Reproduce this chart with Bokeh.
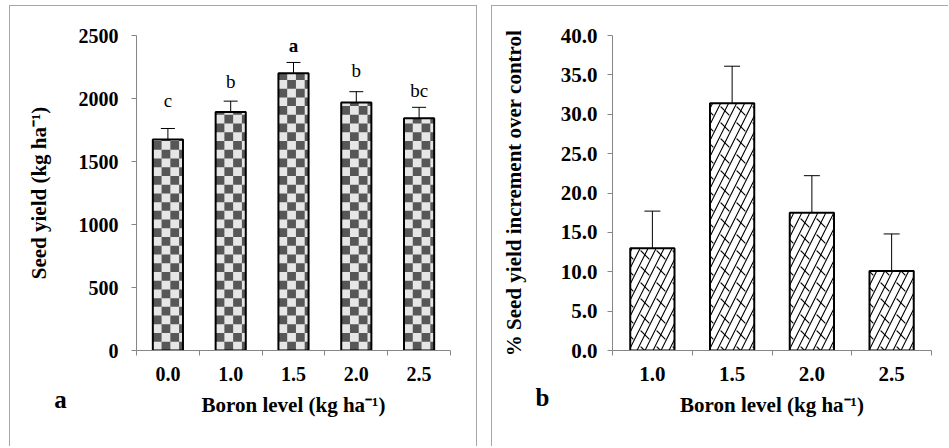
import math
from bokeh.plotting import figure
from bokeh.models import ColumnDataSource, Whisker, TeeHead, FixedTicker, Label
from bokeh.layouts import row
from bokeh.core.properties import value
from bokeh.embed import file_html
from bokeh.resources import INLINE

# ---------------- data ----------------
levels_a = ["0.0", "1.0", "1.5", "2.0", "2.5"]
yield_mean = [1675, 1892, 2200, 1968, 1844]
yield_se = [87, 87, 86, 86, 86]
yield_letters = ["c", "b", "a", "b", "bc"]

levels_b = ["1.0", "1.5", "2.0", "2.5"]
incr_mean = [13.0, 31.4, 17.5, 10.1]
incr_se = [4.7, 4.7, 4.7, 4.7]

yticks_a = [0, 500, 1000, 1500, 2000, 2500]
yticks_b = [0, 5, 10, 15, 20, 25, 30, 35, 40]

# ---------------- style ----------------
FONT = "Liberation Serif"
AXIS_GREY = "#868686"
BORDER_GREY = "#a6a6a6"
TITLE_SIZE = "21px"
letter_px = [28, 20, 17, 21, 17]
letter_styles = ["normal", "normal", "bold", "normal", "normal"]


def style_axes(p, nx, yticks, ylabel, tick_size, y_standoff, ylab_standoff):
    p.xgrid.visible = False
    p.ygrid.visible = False
    p.outline_line_color = None
    xa = p.xaxis[0]
    xa.ticker = FixedTicker(ticks=list(range(nx)),
                            minor_ticks=[i - 0.5 for i in range(nx + 1)])
    xa.major_tick_out = 0
    xa.major_tick_in = 0
    xa.minor_tick_out = 5
    xa.minor_tick_in = 0
    xa.minor_tick_line_color = AXIS_GREY
    xa.axis_line_color = AXIS_GREY
    xa.major_label_standoff = 11
    xa.axis_label = "Boron level (kg ha\u207b\u00b9)"
    xa.axis_label_standoff = 9
    ya = p.yaxis[0]
    ya.ticker = FixedTicker(ticks=yticks)
    ya.major_tick_out = 5
    ya.major_tick_in = 0
    ya.minor_tick_out = 0
    ya.minor_tick_in = 0
    ya.major_tick_line_color = AXIS_GREY
    ya.axis_line_color = AXIS_GREY
    ya.major_label_standoff = y_standoff
    ya.axis_label = ylabel
    ya.axis_label_standoff = ylab_standoff
    for ax in (xa, ya):
        ax.major_label_text_font = FONT
        ax.major_label_text_font_style = "bold"
        ax.major_label_text_font_size = tick_size
        ax.major_label_text_color = "black"
        ax.axis_label_text_font = FONT
        ax.axis_label_text_font_style = "bold"
        ax.axis_label_text_font_size = TITLE_SIZE
        ax.axis_label_text_color = "black"


def panel_letter(p, text, dx, dy):
    # placed in the right side panel (not clipped to the frame);
    # offsets are screen pixels from the frame's bottom-right corner
    p.add_layout(Label(x=dx, y=dy, x_units="screen", y_units="screen", text=text,
                       text_align="center", text_baseline="middle",
                       text_font=FONT, text_font_style="bold",
                       text_font_size="25px", text_color="black"), "right")


# ---------------- panel a ----------------
na = len(levels_a)
p1 = figure(width=468, height=441, output_backend="svg", toolbar_location=None,
            x_range=(-0.5, na - 0.5), y_range=(0, 2500),
            min_border_left=126, min_border_right=28,
            min_border_top=29, min_border_bottom=97)
style_axes(p1, na, yticks_a, "Seed yield (kg ha\u207b\u00b9)", "20px", 13, 25)
p1.xaxis[0].major_label_overrides = {i: s for i, s in enumerate(levels_a)}

bw_a = 0.48
frame_w_a, frame_h_a = 312, 314
cell = 8.7
cw = cell * (na / frame_w_a)
ch = cell * (2500 / frame_h_a)

xs = list(range(na))
p1.vbar(x=xs, top=yield_mean, width=bw_a, fill_color="#e6e6e6", line_color=None)
L, R, B, T = [], [], [], []
for i, m in enumerate(yield_mean):
    left0 = i - bw_a / 2
    ncol = math.ceil(bw_a / cw - 1e-9)
    nrow = math.ceil(m / ch)
    for j in range(ncol):
        for k in range(nrow):
            if (j + k) % 2 == 1:
                l = left0 + j * cw
                L.append(l)
                R.append(min(l + cw, i + bw_a / 2))
                B.append(k * ch)
                T.append(min((k + 1) * ch, m))
p1.quad(left=L, right=R, bottom=B, top=T, fill_color="#575757", line_color=None)
p1.vbar(x=xs, top=yield_mean, width=bw_a, fill_color=None, line_color="black", line_width=2)

src_a = ColumnDataSource(dict(x=xs, upper=[m + s for m, s in zip(yield_mean, yield_se)],
                              lower=[m - s for m, s in zip(yield_mean, yield_se)],
                              lab=yield_letters, st=letter_styles,
                              off=[-v for v in letter_px]))
p1.add_layout(Whisker(source=src_a, base="x", upper="upper", lower="lower", dimension="height",
                      line_color="black", line_width=1,
                      upper_head=TeeHead(size=14, line_color="black", line_width=1),
                      lower_head=TeeHead(size=14, line_color="black", line_width=1)))
p1.text(x="x", y="upper", text="lab", source=src_a, y_offset="off",
        text_font=value(FONT), text_font_size="19px", text_font_style="st",
        text_align="center", text_baseline="middle", text_color="black")
panel_letter(p1, "a", -390, -49)
p1.styles = {"border-top": f"1px solid {BORDER_GREY}", "border-left": f"1px solid {BORDER_GREY}",
             "border-right": f"1px solid {BORDER_GREY}"}

# ---------------- panel b ----------------
nb = len(levels_b)
p2 = figure(width=457, height=441, output_backend="svg", toolbar_location=None,
            x_range=(-0.5, nb - 0.5), y_range=(0, 40),
            min_border_left=120, min_border_right=18,
            min_border_top=29, min_border_bottom=97)
style_axes(p2, nb, yticks_b, "% Seed yield increment over control", "21px", 10, 32)
p2.xaxis[0].major_label_overrides = {i: s for i, s in enumerate(levels_b)}
p2.yaxis[0].major_label_overrides = {v: f"{v:.1f}" for v in yticks_b}

bw_b = 0.555
xb = list(range(nb))
p2.vbar(x=xb, top=incr_mean, width=bw_b, fill_color="white", line_color=None,
        hatch_pattern="right_diagonal_line", hatch_scale=16, hatch_weight=1.1, hatch_color="black")
p2.vbar(x=xb, top=incr_mean, width=bw_b, fill_color=None, line_color=None,
        hatch_pattern="left_diagonal_dash", hatch_scale=16, hatch_weight=1.1, hatch_color="black")
p2.vbar(x=xb, top=incr_mean, width=bw_b, fill_color=None, line_color="black", line_width=2)

src_b = ColumnDataSource(dict(x=xb, upper=[m + s for m, s in zip(incr_mean, incr_se)],
                              lower=[m - s for m, s in zip(incr_mean, incr_se)]))
p2.add_layout(Whisker(source=src_b, base="x", upper="upper", lower="lower", dimension="height",
                      line_color="black", line_width=1,
                      upper_head=TeeHead(size=16, line_color="black", line_width=1),
                      lower_head=TeeHead(size=16, line_color="black", line_width=1)))
panel_letter(p2, "b", -389, -47)
p2.styles = {"border-top": f"1px solid {BORDER_GREY}", "border-left": f"1px solid {BORDER_GREY}"}

layout = row(p1, p2, spacing=14)
layout.styles = {"margin-left": "9px", "margin-top": "5px"}

open("out.html", "w").write(file_html(layout, INLINE))
